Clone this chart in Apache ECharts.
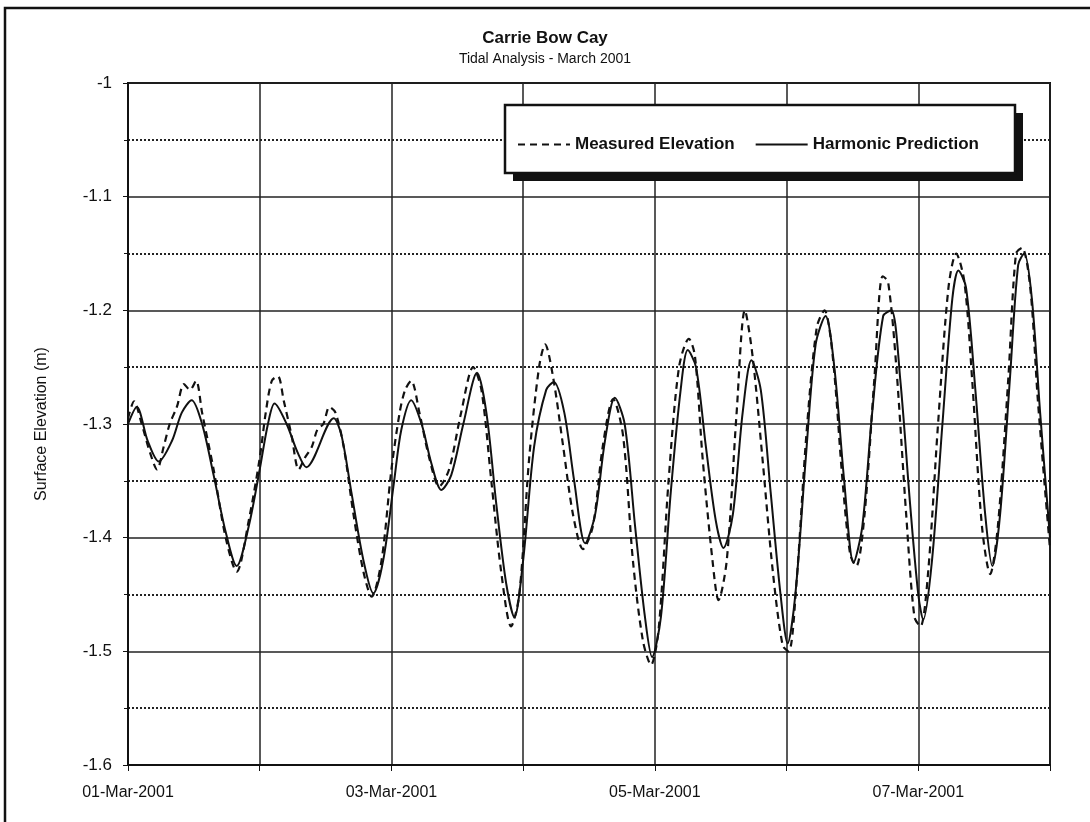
<!DOCTYPE html>
<html>
<head>
<meta charset="utf-8">
<title>Carrie Bow Cay - Tidal Analysis</title>
<script src="https://cdn.jsdelivr.net/npm/echarts@6/dist/echarts.min.js"></script>
<style>
  html, body { margin: 0; padding: 0; background: #fff; }
  #chart { width: 1090px; height: 822px; }
</style>
</head>
<body>
<div id="chart"></div>
<script>
// time in hours since 01-Mar-2001 00:00, elevation in m
const measuredHours = [0, 1.1, 2.5, 4.0, 5.3, 6.5, 7.6, 8.9, 10.2, 11.3, 12.4, 13.5, 15.6, 17.8, 19.8, 22.0,
  24.0, 25.1, 26.2, 27.3, 28.4, 29.8, 31.1, 32.2, 33.5, 34.5, 35.6, 36.7, 37.8, 39.3, 41.1, 42.9, 44.4, 46.2,
  48.0, 49.5, 50.5, 51.6, 53.1, 54.9, 56.7, 58.5, 60.7, 62.9, 64.4, 66.2, 68.0, 69.8, 71.3,
  73.1, 74.9, 76.0, 77.5, 79.3, 81.1, 82.9, 84.7, 86.5, 88.4, 90.2, 92.0, 93.8, 95.3,
  96.7, 98.5, 100.4, 102.2, 103.3, 104.7, 106.5, 107.6, 109.1, 110.9, 112.4, 113.8, 115.6, 117.5, 119.3,
  120.4, 121.8, 123.6, 125.5, 126.9, 128.4, 130.2, 131.6, 132.7, 134.2, 136.0, 137.5, 138.5, 140.0, 141.8, 143.3,
  144.4, 145.8, 147.6, 149.5, 150.9, 152.4, 153.8, 155.6, 157.1, 158.5, 160.4, 161.8, 162.9, 164.4, 165.8, 168.0];
const measuredElev = [-1.295, -1.280, -1.300, -1.325, -1.340, -1.320, -1.300, -1.285, -1.265, -1.270, -1.262, -1.290, -1.340, -1.400, -1.430, -1.385,
  -1.330, -1.290, -1.262, -1.258, -1.280, -1.310, -1.340, -1.330, -1.320, -1.305, -1.300, -1.285, -1.290, -1.320, -1.380, -1.430, -1.452, -1.420,
  -1.340, -1.290, -1.270, -1.262, -1.290, -1.330, -1.355, -1.340, -1.290, -1.250, -1.270, -1.350, -1.430, -1.478, -1.450,
  -1.330, -1.250, -1.230, -1.260, -1.320, -1.380, -1.410, -1.390, -1.320, -1.278, -1.310, -1.420, -1.490, -1.512,
  -1.480, -1.350, -1.250, -1.225, -1.240, -1.330, -1.420, -1.455, -1.420, -1.290, -1.200, -1.240, -1.330, -1.430, -1.495,
  -1.500, -1.440, -1.310, -1.215, -1.200, -1.240, -1.350, -1.415, -1.425, -1.380, -1.260, -1.170, -1.175, -1.250, -1.380, -1.470,
  -1.478, -1.430, -1.300, -1.180, -1.150, -1.175, -1.260, -1.390, -1.432, -1.390, -1.260, -1.150, -1.145, -1.180, -1.280, -1.410];

const predictedHours = [0, 1.6, 3.6, 5.6, 8.0, 9.8, 11.6, 13.5, 15.6, 17.8, 19.8, 22.0,
  24.0, 25.5, 26.7, 28.9, 30.9, 32.5, 37.5, 38.9, 40.7, 42.9, 44.7, 46.5,
  48.5, 49.8, 51.6, 53.5, 55.3, 57.1, 58.9, 61.1, 63.6, 65.3, 67.1, 68.9, 70.4,
  72.0, 74.0, 76.2, 77.6, 79.5, 81.3, 83.3, 85.1, 86.9, 88.7, 90.5, 92.4, 94.2, 95.5,
  97.1, 98.9, 100.7, 102.0, 103.5, 105.3, 107.1, 108.5, 110.2, 112.0, 113.6, 115.3, 117.1, 118.9,
  120.2, 121.6, 123.5, 125.3, 127.1, 128.7, 130.5, 132.2, 133.8, 135.6, 137.6, 139.1, 140.7, 142.5,
  144.0, 144.9, 146.5, 148.4, 150.2, 151.3, 152.7, 154.4, 156.2, 157.5, 158.9, 160.7, 162.2, 163.3, 164.7, 166.2, 168.0];
const predictedElev = [-1.300, -1.285, -1.315, -1.333, -1.315, -1.290, -1.279, -1.300, -1.345, -1.395, -1.425, -1.390,
  -1.340, -1.300, -1.282, -1.300, -1.325, -1.338, -1.295, -1.310, -1.360, -1.420, -1.449, -1.420,
  -1.350, -1.305, -1.279, -1.300, -1.335, -1.358, -1.345, -1.300, -1.255, -1.290, -1.370, -1.440, -1.470,
  -1.420, -1.320, -1.270, -1.263, -1.290, -1.350, -1.405, -1.380, -1.315, -1.277, -1.300, -1.390, -1.470, -1.505,
  -1.470, -1.360, -1.270, -1.235, -1.250, -1.320, -1.385, -1.409, -1.380, -1.290, -1.244, -1.270, -1.360, -1.450,
  -1.493, -1.450, -1.330, -1.230, -1.205, -1.250, -1.350, -1.422, -1.390, -1.290, -1.205, -1.200, -1.260, -1.370,
  -1.450, -1.472, -1.420, -1.300, -1.190, -1.165, -1.180, -1.270, -1.380, -1.425, -1.380, -1.260, -1.160, -1.150, -1.190, -1.290, -1.400];

const dayLabels = ['01-Mar-2001', '', '03-Mar-2001', '', '05-Mar-2001', '', '07-Mar-2001', ''];

const chart = echarts.init(document.getElementById('chart'));
const ink = '#111';
const font = 'Arial, "Liberation Sans", sans-serif';

const option = {
  backgroundColor: '#fff',
  animation: false,
  title: {
    text: 'Carrie Bow Cay',
    subtext: 'Tidal Analysis - March 2001',
    left: 'center',
    top: 25,
    itemGap: 5,
    textStyle: { fontFamily: font, fontSize: 17, fontWeight: 'bold', color: ink },
    subtextStyle: { fontFamily: font, fontSize: 14, color: ink }
  },
  legend: {
    left: 512,
    top: 131,
    z: 5,
    itemWidth: 52,
    itemHeight: 14,
    itemGap: 20,
    itemStyle: { opacity: 0 },
    textStyle: { fontFamily: font, fontSize: 17, fontWeight: 'bold', color: ink },
    data: ['Measured Elevation', 'Harmonic Prediction']
  },
  graphic: [
    {
      type: 'rect',
      z: 0,
      silent: true,
      shape: { x: 5, y: 8, width: 1100, height: 830 },
      style: { fill: 'none', stroke: ink, lineWidth: 2.5 }
    },
    // legend box shadow
    {
      type: 'rect',
      z: 3,
      silent: true,
      shape: { x: 513, y: 113, width: 510, height: 68 },
      style: { fill: ink }
    },
    {
      type: 'rect',
      z: 3,
      silent: true,
      shape: { x: 505, y: 105, width: 510, height: 68 },
      style: { fill: '#fff', stroke: ink, lineWidth: 2.5 }
    }
  ],
  grid: {
    left: 128, right: 40, top: 83, bottom: 57,
    show: true, borderColor: ink, borderWidth: 2
  },
  xAxis: {
    type: 'value',
    min: 0,
    max: 168,
    interval: 24,
    axisLine: { lineStyle: { color: ink, width: 2 } },
    axisTick: { length: 6, lineStyle: { color: ink } },
    axisLabel: {
      margin: 20,
      fontFamily: font,
      fontSize: 16,
      color: ink,
      formatter: (v) => dayLabels[Math.round(v / 24)] || ''
    },
    splitLine: { show: true, lineStyle: { color: '#222', width: 1.5 } }
  },
  yAxis: {
    type: 'value',
    min: -1.6,
    max: -1,
    interval: 0.1,
    name: 'Surface Elevation (m)',
    nameLocation: 'middle',
    nameGap: 78,
    nameTextStyle: { fontFamily: font, fontSize: 16, color: ink },
    axisLine: { show: true, lineStyle: { color: ink, width: 2 } },
    axisTick: { show: true, length: 5, lineStyle: { color: ink } },
    minorTick: { show: true, splitNumber: 2, length: 4, lineStyle: { color: ink } },
    axisLabel: {
      margin: 16,
      fontFamily: font,
      fontSize: 17,
      color: ink,
      formatter: (v) => String(Math.round(v * 10) / 10)
    },
    splitLine: { show: true, lineStyle: { color: '#222', width: 1.5 } },
    minorSplitLine: { show: true, lineStyle: { color: '#222', width: 2, type: 'dotted' } }
  },
  series: [
    {
      name: 'Measured Elevation',
      type: 'line',
      symbol: 'none',
      smooth: 0.3,
      z: 3,
      data: measuredHours.map((h, i) => [h, measuredElev[i]]),
      lineStyle: { color: ink, width: 2.2, type: [7, 5] },
      itemStyle: { color: ink }
    },
    {
      name: 'Harmonic Prediction',
      type: 'line',
      symbol: 'none',
      smooth: 0.3,
      z: 2,
      data: predictedHours.map((h, i) => [h, predictedElev[i]]),
      lineStyle: { color: ink, width: 2 },
      itemStyle: { color: ink }
    }
  ]
};

chart.setOption(option);
</script>
</body>
</html>
